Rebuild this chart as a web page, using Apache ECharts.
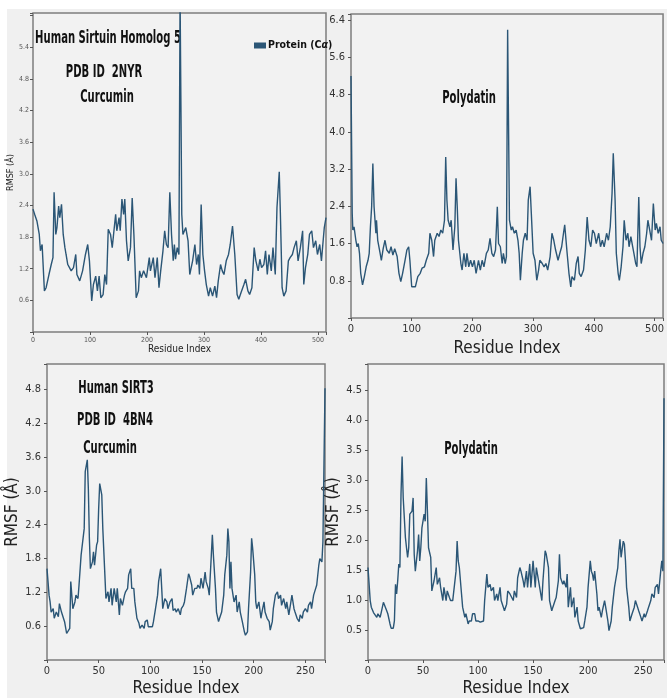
<!DOCTYPE html>
<html>
<head>
<meta charset="utf-8">
<script src="https://cdn.jsdelivr.net/npm/echarts@6/dist/echarts.min.js"></script>
<style>
  html, body { margin: 0; padding: 0; background: #ffffff; }
  #main { width: 667px; height: 698px; }
</style>
</head>
<body>
<div id="main"></div>
<script>
// RMSF (Å) per residue
const sirt5Curcumin = [[0,2.33],[3,2.23],[7,2.1],[11,1.85],[13,1.54],[16,1.66],[20,0.78],[23,0.84],[28,1.09],[32,1.28],[35,1.41],[37,2.65],[40,1.85],[42,1.98],[45,2.39],[47,2.17],[50,2.42],[53,1.85],[56,1.6],[58,1.47],[61,1.28],[64,1.22],[67,1.16],[71,1.22],[75,1.47],[77,1.09],[82,0.97],[87,1.16],[92,1.47],[96,1.66],[99,1.35],[103,0.59],[106,0.9],[110,1.06],[113,0.78],[116,1.06],[119,0.65],[123,0.71],[126,1.09],[129,0.9],[132,1.95],[136,1.85],[139,1.6],[142,1.92],[145,2.23],[147,1.92],[151,2.17],[153,1.92],[156,2.52],[159,2.23],[161,2.52],[164,1.73],[167,1.35],[171,1.6],[174,2.54],[177,1.85],[181,0.65],[185,0.78],[187,1.16],[190,1.03],[194,1.16],[199,1.03],[204,1.41],[206,1.16],[211,1.41],[214,1.03],[218,1.41],[221,0.84],[224,1.16],[228,1.54],[231,1.92],[234,1.66],[237,1.6],[240,2.65],[243,1.85],[246,1.35],[248,1.66],[250,1.38],[253,1.6],[256,1.47],[258,6.4],[261,2.23],[263,1.85],[268,1.98],[272,1.73],[275,1.09],[280,1.35],[284,1.66],[287,1.28],[290,1.47],[292,1.09],[295,2.42],[298,1.47],[301,1.16],[304,0.9],[308,0.68],[311,0.84],[315,0.68],[319,0.87],[322,0.65],[325,0.97],[329,1.28],[332,1.16],[335,1.09],[339,1.35],[343,1.47],[346,1.66],[350,2.01],[354,1.47],[358,0.71],[361,0.62],[365,0.75],[370,0.9],[373,1.0],[377,0.78],[380,0.71],[384,0.84],[388,1.6],[391,1.35],[395,1.16],[398,1.38],[401,1.22],[405,1.28],[408,1.54],[411,1.09],[414,1.47],[418,1.16],[421,1.6],[425,1.09],[428,2.36],[432,3.04],[434,2.23],[437,0.84],[440,0.68],[444,0.78],[448,1.35],[451,1.41],[455,1.47],[458,1.6],[462,1.73],[465,1.35],[469,1.6],[473,1.92],[475,0.9],[478,1.22],[482,1.47],[485,1.85],[489,1.92],[492,1.6],[496,1.73],[499,1.47],[503,1.66],[506,1.35],[509,1.73],[511,1.98],[514,2.17]];

const sirt5Polydatin = [[0,5.2],[2,2.25],[3,1.89],[5,1.96],[8,1.67],[10,1.53],[12,1.6],[14,1.39],[16,0.96],[19,0.71],[22,0.89],[25,1.1],[28,1.24],[30,1.39],[32,1.96],[34,2.39],[36,3.32],[38,2.39],[41,1.82],[42,2.1],[44,1.67],[48,1.39],[50,1.24],[53,1.49],[56,1.67],[59,1.46],[63,1.39],[66,1.53],[69,1.35],[72,1.49],[76,1.32],[79,0.96],[82,0.78],[85,0.96],[89,1.24],[92,1.46],[95,1.53],[97,1.24],[100,0.67],[103,0.71],[106,0.67],[110,0.89],[114,0.96],[117,1.07],[121,1.1],[124,1.24],[128,1.39],[130,1.82],[133,1.67],[136,1.32],[138,1.67],[142,1.82],[145,1.75],[148,1.89],[151,1.82],[154,2.1],[156,3.46],[158,2.53],[160,2.1],[163,1.96],[165,2.1],[168,1.46],[171,1.96],[173,3.0],[175,2.39],[177,1.67],[181,1.17],[183,1.03],[186,1.39],[189,1.1],[191,1.39],[194,1.1],[197,1.24],[200,1.1],[203,1.24],[206,0.96],[210,1.24],[213,1.03],[216,1.24],[219,1.1],[223,1.39],[226,1.46],[229,1.71],[232,1.39],[235,1.32],[238,1.46],[241,2.39],[243,1.6],[246,1.53],[249,1.17],[251,1.39],[254,1.17],[256,1.32],[258,6.19],[261,2.1],[264,1.89],[266,1.96],[269,1.82],[272,1.89],[275,1.67],[277,1.39],[279,0.81],[282,1.39],[284,1.67],[287,1.82],[290,1.67],[292,2.53],[295,2.82],[297,2.25],[300,1.39],[303,1.24],[306,0.81],[309,1.03],[311,1.24],[315,1.17],[318,1.1],[321,1.17],[324,1.03],[328,1.32],[331,1.82],[334,1.67],[337,1.46],[341,1.24],[344,1.39],[347,1.53],[350,1.82],[352,2.0],[356,1.39],[359,0.96],[362,0.67],[364,0.89],[368,0.81],[371,1.17],[374,1.32],[376,0.96],[379,0.89],[383,1.03],[386,1.46],[389,2.17],[392,1.67],[395,1.53],[398,1.89],[401,1.82],[404,1.6],[408,1.82],[411,1.53],[414,1.67],[417,1.53],[421,1.82],[424,1.67],[427,1.96],[430,2.68],[432,3.54],[435,2.53],[437,1.39],[440,0.96],[442,0.81],[445,1.1],[448,1.53],[450,2.1],[453,1.67],[456,1.82],[458,1.53],[461,1.75],[464,1.53],[466,1.39],[469,1.17],[471,1.1],[474,2.6],[476,1.53],[478,1.17],[481,1.39],[484,1.53],[487,1.82],[489,2.1],[492,1.89],[495,1.67],[498,2.46],[501,1.89],[503,2.03],[506,1.82],[509,1.96],[511,1.67],[514,1.6]];

const sirt3Curcumin = [[0,1.62],[2,1.15],[3,1.03],[4,0.85],[6,0.91],[7,0.74],[9,0.85],[11,0.77],[12,1.0],[14,0.85],[15,0.82],[17,0.68],[19,0.47],[20,0.45],[22,0.56],[23,1.39],[25,0.91],[27,1.03],[28,1.15],[30,1.09],[31,1.33],[33,1.86],[34,1.83],[36,2.33],[37,3.34],[39,3.55],[40,3.04],[41,2.16],[42,1.62],[44,1.74],[45,1.92],[46,1.68],[48,2.04],[49,2.1],[50,2.69],[51,3.13],[53,2.93],[54,2.33],[56,1.51],[57,1.09],[59,1.21],[60,1.03],[62,1.27],[63,0.97],[65,1.27],[67,1.03],[68,1.27],[70,0.8],[71,1.09],[73,0.97],[75,1.15],[76,1.21],[78,1.27],[79,1.51],[81,1.62],[82,1.27],[84,1.27],[85,1.03],[87,0.74],[89,0.65],[90,0.56],[92,0.62],[94,0.56],[95,0.68],[97,0.71],[98,0.59],[100,0.59],[102,0.59],[103,0.68],[105,0.91],[107,1.15],[108,1.39],[110,1.62],[111,1.27],[112,0.91],[114,1.09],[116,1.03],[117,0.91],[119,1.03],[121,1.09],[122,0.88],[124,0.91],[125,0.85],[127,0.91],[129,0.8],[130,0.91],[132,0.97],[133,1.03],[135,1.27],[137,1.53],[138,1.48],[140,1.33],[141,1.15],[143,1.27],[145,1.27],[146,1.33],[148,1.27],[149,1.45],[151,1.27],[153,1.56],[154,1.39],[156,1.27],[157,1.15],[159,1.86],[160,2.22],[161,1.86],[163,1.27],[164,0.85],[166,0.68],[167,0.74],[169,0.85],[171,1.15],[172,1.51],[174,1.86],[175,2.33],[176,2.1],[177,1.27],[178,1.74],[179,1.27],[181,1.03],[183,1.15],[184,0.85],[186,1.03],[187,0.85],[189,0.68],[191,0.5],[192,0.44],[194,0.5],[195,0.91],[197,1.56],[198,2.16],[199,1.98],[201,1.51],[202,1.03],[203,0.91],[205,1.03],[207,0.74],[208,0.85],[210,1.03],[211,0.85],[213,0.74],[215,0.68],[216,0.53],[218,0.68],[219,0.91],[221,1.15],[223,1.21],[224,1.09],[226,1.15],[227,0.97],[229,1.09],[231,0.91],[232,1.03],[234,0.8],[236,1.03],[237,1.15],[239,0.91],[240,0.85],[242,0.74],[244,0.68],[245,0.8],[247,0.74],[248,0.85],[250,0.91],[252,0.85],[253,0.97],[255,1.03],[256,0.91],[258,1.15],[260,1.27],[261,1.33],[263,1.68],[264,1.8],[266,1.74],[267,2.1],[269,4.82]];

const sirt3Polydatin = [[0,1.54],[2,0.99],[3,0.88],[5,0.79],[6,0.82],[8,0.71],[9,0.77],[11,0.71],[12,0.79],[14,0.96],[15,0.93],[17,0.82],[18,0.77],[20,0.6],[21,0.53],[23,0.53],[24,0.65],[25,1.26],[26,1.1],[27,1.32],[28,1.6],[29,1.54],[30,2.76],[31,3.39],[32,2.7],[34,2.04],[35,1.87],[36,1.71],[37,1.87],[38,2.43],[40,2.48],[41,2.7],[42,1.76],[43,1.48],[45,1.82],[46,2.09],[47,1.65],[48,1.87],[49,2.2],[51,2.43],[52,2.31],[53,3.03],[54,2.48],[55,1.87],[57,1.71],[58,1.15],[60,1.32],[62,1.54],[63,1.26],[65,1.37],[66,1.21],[68,0.99],[69,1.21],[71,0.99],[72,1.15],[74,1.04],[75,0.99],[77,0.99],[78,0.99],[80,1.48],[81,1.98],[82,1.65],[83,1.54],[85,1.1],[86,0.88],[88,0.71],[89,0.77],[91,0.6],[92,0.65],[94,0.65],[95,0.77],[97,0.77],[98,0.65],[100,0.65],[102,0.63],[103,0.65],[105,0.65],[106,0.99],[108,1.43],[109,1.21],[111,1.26],[112,1.15],[114,1.21],[115,0.99],[117,1.1],[118,0.99],[120,1.21],[121,0.99],[123,0.88],[124,0.82],[126,0.93],[127,1.15],[129,1.1],[130,1.1],[132,0.99],[133,1.15],[135,1.04],[136,1.37],[138,1.54],[139,1.48],[141,1.32],[142,1.21],[144,1.48],[145,1.21],[147,1.6],[148,1.21],[150,1.65],[152,1.21],[153,1.54],[155,1.32],[156,1.21],[158,0.99],[159,1.32],[161,1.82],[162,1.76],[164,1.54],[165,0.99],[167,0.82],[168,0.88],[170,0.99],[171,1.04],[173,1.32],[174,1.76],[175,1.37],[177,1.26],[178,1.32],[180,1.21],[181,1.43],[182,0.88],[184,1.21],[185,0.88],[187,1.04],[188,0.71],[190,0.88],[191,0.65],[193,0.52],[194,0.49],[196,0.54],[197,0.65],[199,0.88],[200,1.21],[202,1.65],[203,1.48],[204,1.43],[205,1.32],[206,1.48],[208,1.1],[209,0.82],[210,0.88],[212,0.71],[213,0.82],[215,0.99],[216,0.88],[218,0.65],[219,0.49],[221,0.65],[222,0.88],[224,1.21],[225,1.32],[227,1.54],[228,1.82],[229,2.01],[230,1.71],[232,1.98],[233,1.93],[234,1.65],[235,1.21],[237,0.88],[238,0.65],[240,0.77],[242,0.88],[243,0.99],[245,0.88],[246,0.82],[248,0.71],[249,0.65],[251,0.77],[252,0.71],[254,0.82],[255,0.88],[257,0.99],[258,1.1],[260,1.04],[261,1.21],[263,1.26],[264,1.1],[266,1.48],[267,1.65],[268,1.48],[269,4.36]];

// axis ranges: [xMax, xStep, yMax, yStep, yLastLabel]
const panelAxes = [
  [514, 100, 6.05, 0.6, 5.4],
  [514, 100, 6.53, 0.8, 6.4],
  [269, 50, 5.25, 0.6, 4.8],
  [269, 50, 4.93, 0.5, 4.5]
];
const panelData = [sirt5Curcumin, sirt5Polydatin, sirt3Curcumin, sirt3Polydatin];

const lineColor = "#2b5676";
const condensed = "'DejaVu Sans Condensed', 'Liberation Sans Narrow', 'DejaVu Sans', sans-serif";
const boldFont = "'Liberation Sans Narrow', 'DejaVu Sans Condensed', 'Open Sans', sans-serif";

const grids = [
  { left: 33, top: 13, right: 341, bottom: 366 },
  { left: 351, top: 14, right: 0, bottom: 380 },
  { left: 47, top: 364, right: 342, bottom: 38 },
  { left: 368, top: 364, right: 1, bottom: 38 }
].map(g => Object.assign(g, {
  show: true,
  backgroundColor: "#f2f2f2",
  borderColor: "#7d7d7d",
  borderWidth: 1.5
}));

// small labels on the first panel, bigger ones elsewhere
const labelSize = [7, 11, 11, 11];
const nameSize = [10, 17, 17, 17];
const xNameGap = [10, 22, 20, 20];
const yNameGap = [14, 0, 21, 21];

const xAxes = panelAxes.map((a, i) => ({
  gridIndex: i,
  type: "value",
  min: 0,
  max: a[0],
  interval: a[1],
  name: "Residue Index",
  nameLocation: "middle",
  nameGap: xNameGap[i],
  nameTextStyle: { fontFamily: condensed, fontSize: nameSize[i], color: "#222" },
  axisLine: { show: false },
  axisTick: { show: true, length: 3, lineStyle: { color: "#555" } },
  axisLabel: {
    fontFamily: condensed,
    fontSize: labelSize[i],
    color: i === 0 ? "#555" : "#333",
    margin: i === 0 ? 5 : 6,
    formatter: v => (v % a[1] === 0 ? String(v) : "")
  },
  splitLine: { show: false }
}));

const yAxes = panelAxes.map((a, i) => ({
  gridIndex: i,
  type: "value",
  min: 0,
  max: a[2],
  interval: a[3],
  name: i === 1 ? "" : "RMSF (Å)",
  nameLocation: "middle",
  nameGap: yNameGap[i],
  nameTextStyle: { fontFamily: condensed, fontSize: i === 0 ? 9 : 17, color: "#222" },
  axisLine: { show: false },
  axisTick: { show: true, length: 3, lineStyle: { color: "#555" } },
  axisLabel: {
    fontFamily: condensed,
    fontSize: labelSize[i],
    color: i === 0 ? "#555" : "#333",
    margin: i === 0 ? 4 : 6,
    formatter: v => (v > 0.01 && v <= a[4] + 0.01 ? v.toFixed(1) : "")
  },
  splitLine: { show: false }
}));

const series = panelData.map((d, i) => ({
  name: i === 0 ? "Protein (Cα)" : "panel" + i,
  type: "line",
  xAxisIndex: i,
  yAxisIndex: i,
  data: d,
  showSymbol: false,
  lineStyle: { color: lineColor, width: 1.4 },
  itemStyle: { color: lineColor },
  clip: true
}));

// the figure uses a narrow bold face, so squeeze the text horizontally
const boldText = (text, x, y) => ({
  type: "text",
  x: x,
  y: y,
  scaleX: 0.62,
  style: {
    text: text,
    font: "bold 18px " + boldFont,
    fill: "#111",
    align: "center",
    verticalAlign: "middle"
  }
});

const chart = echarts.init(document.getElementById("main"));
chart.setOption({
  backgroundColor: "#f0f0f0",
  animation: false,
  grid: grids,
  xAxis: xAxes,
  yAxis: yAxes,
  series: series,
  legend: {
    data: ["Protein (Cα)"],
    left: 249,
    top: 35,
    icon: "rect",
    itemWidth: 12,
    itemHeight: 6,
    itemGap: 3,
    formatter: () => "{a|Protein (C}{b|α}{a|)}",
    textStyle: {
      padding: [0, 0, 0, -3],
      rich: {
        a: { fontFamily: boldFont, fontWeight: "bold", fontSize: 10.5, color: "#111" },
        b: { fontFamily: boldFont, fontWeight: "bold", fontStyle: "italic", fontSize: 10.5, color: "#111" }
      }
    }
  },
  graphic: [
    { type: "rect", shape: { x: 0, y: 0, width: 667, height: 9 }, style: { fill: "#ffffff" }, silent: true, z: -10 },
    { type: "rect", shape: { x: 0, y: 0, width: 7, height: 698 }, style: { fill: "#ffffff" }, silent: true, z: -10 },
    boldText("Human Sirtuin Homolog 5", 108, 38),
    boldText("PDB ID  2NYR", 104, 72),
    boldText("Curcumin", 107, 97),
    boldText("Polydatin", 469, 98),
    boldText("Human SIRT3", 116, 388),
    boldText("PDB ID  4BN4", 115, 420),
    boldText("Curcumin", 110, 448),
    boldText("Polydatin", 471, 449)
  ]
});
</script>
</body>
</html>
